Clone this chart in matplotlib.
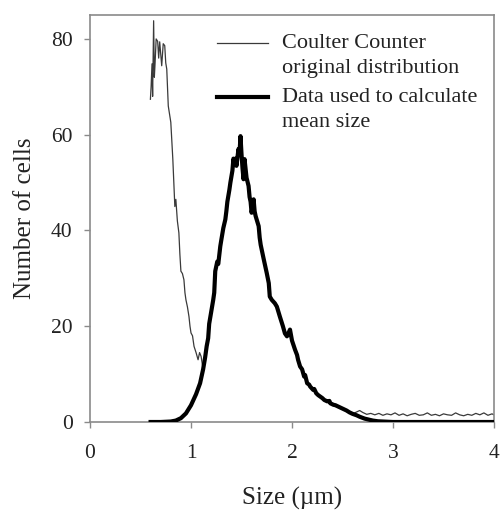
import matplotlib
matplotlib.use("Agg")
import matplotlib.pyplot as plt
import numpy as np

plt.rcParams['font.family'] = ['Liberation Serif', 'DejaVu Serif']

# Thick curve: data used to calculate mean size
thick_x = [0.60, 0.70, 0.80, 0.85, 0.90, 0.95, 1.00, 1.05, 1.09, 1.12, 1.14, 1.155,
           1.17, 1.18, 1.20, 1.22, 1.23, 1.24, 1.26, 1.27, 1.29, 1.30, 1.32, 1.34,
           1.35, 1.36, 1.38, 1.39, 1.41, 1.42, 1.43, 1.44, 1.45, 1.47, 1.48, 1.49,
           1.50, 1.51, 1.52, 1.53, 1.55, 1.57, 1.58, 1.59, 1.60, 1.62, 1.63, 1.64,
           1.67, 1.68, 1.69, 1.70, 1.72, 1.75, 1.77, 1.78, 1.80, 1.83, 1.85, 1.88,
           1.91, 1.93, 1.95, 1.97, 1.98, 2.00, 2.03, 2.05, 2.06, 2.08, 2.10, 2.12,
           2.13, 2.15, 2.17, 2.18, 2.21, 2.22, 2.24, 2.26, 2.28, 2.30, 2.32, 2.35,
           2.37, 2.38, 2.41, 2.43, 2.45, 2.48, 2.51, 2.54, 2.57, 2.60, 2.64, 2.67,
           2.72, 2.76, 2.80, 2.85, 2.90, 3.00, 3.50, 4.00]
thick_y = [0.0, 0.0, 0.1, 0.3, 0.8, 1.8, 3.5, 5.8, 8.1, 11.0, 13.5, 15.8,
           17.5, 20.5, 23.0, 25.5, 27.0, 31.5, 33.5, 33.0, 36.7, 38.0, 40.5, 42.3,
           44.0, 46.0, 48.5, 50.0, 52.5, 55.0, 54.0, 55.0, 53.5, 57.0, 56.0, 59.7,
           56.0, 53.0, 50.7, 54.9, 51.0, 49.3, 47.0, 46.0, 43.7, 46.5, 44.0, 43.0,
           40.9, 38.5, 37.0, 36.0, 34.0, 31.1, 29.0, 26.2, 25.5, 24.8, 24.1, 22.0,
           20.0, 18.5, 17.9, 18.8, 19.3, 17.0, 15.1, 14.0, 13.0, 11.6, 11.0, 9.5,
           9.8, 8.1, 7.8, 7.4, 6.7, 6.9, 6.0, 5.6, 5.3, 5.0, 4.6, 4.3,
           4.4, 3.9, 3.6, 3.5, 3.3, 3.0, 2.7, 2.4, 2.0, 1.7, 1.4, 1.1,
           0.7, 0.5, 0.3, 0.15, 0.1, 0.0, 0.0, 0.0]

# Thin curve: Coulter Counter original distribution (left part, before merging)
orig_left_x = [0.598, 0.605, 0.614, 0.62, 0.63, 0.637, 0.644, 0.655, 0.67, 0.68,
               0.69, 0.70, 0.71, 0.725, 0.74, 0.75, 0.76, 0.775, 0.79, 0.80,
               0.82, 0.84, 0.85, 0.865, 0.88, 0.89, 0.90, 0.915, 0.93, 0.94,
               0.95, 0.965, 0.98, 0.99, 1.00, 1.015, 1.03, 1.05, 1.07, 1.085, 1.10]
orig_left_y = [67.4, 70.0, 74.8, 68.0, 83.8, 72.0, 74.8, 80.0, 79.5, 76.0,
               79.4, 77.0, 74.4, 79.0, 78.6, 75.0, 73.7, 66.0, 64.0, 62.6,
               54.9, 45.0, 46.5, 42.0, 39.5, 35.0, 31.5, 31.0, 29.7, 27.0,
               25.5, 24.0, 22.0, 20.0, 18.6, 18.0, 15.8, 14.5, 13.0, 14.5, 13.7]
# Thin curve tail (after separating from the thick curve)
orig_tail_x = [2.62, 2.65, 2.67, 2.70, 2.74, 2.78, 2.82, 2.86, 2.90, 2.94, 2.98,
               3.02, 3.06, 3.10, 3.14, 3.18, 3.22, 3.26, 3.30, 3.34, 3.38, 3.42,
               3.46, 3.50, 3.54, 3.58, 3.62, 3.66, 3.70, 3.74, 3.78, 3.82, 3.86,
               3.90, 3.94, 3.98, 4.00]
orig_tail_y = [1.9, 2.2, 2.4, 2.0, 1.6, 1.8, 1.5, 1.8, 1.4, 1.7, 1.5,
               1.9, 1.4, 1.7, 1.3, 1.6, 1.8, 1.4, 1.5, 1.9, 1.4, 1.6,
               1.3, 1.7, 1.5, 1.4, 1.9, 1.5, 1.3, 1.6, 1.4, 1.8, 1.5,
               1.9, 1.4, 1.7, 1.5]

x_ticks = [0, 1, 2, 3, 4]
y_ticks = [0, 20, 40, 60, 80]
legend_labels = ["Coulter Counter\noriginal distribution",
                 "Data used to calculate\nmean size"]

tx = np.array(thick_x)
ty = np.array(thick_y)
mid = (tx > orig_left_x[-1]) & (tx < orig_tail_x[0])
orig_x = np.concatenate([orig_left_x, tx[mid], orig_tail_x])
orig_y = np.concatenate([orig_left_y, ty[mid], orig_tail_y])

fig = plt.figure(figsize=(5.02, 5.11), dpi=100)
ax = fig.add_axes([90/502, 1-422/511, 404/502, 407/511])

text_col = '#222222'
frame_col = '#8a8a8a'

ax.plot(orig_x, orig_y, color='#3a3a3a', lw=0.9, zorder=2)
ax.plot(tx, ty, color='black', lw=3.0, solid_joinstyle='round', zorder=3)

ax.set_xlim(0, 4)
ax.set_ylim(0, 85)
ax.set_xticks(x_ticks)
ax.set_yticks(y_ticks)
ax.set_xticklabels([str(v) for v in x_ticks])
ax.set_yticklabels([str(v) for v in y_ticks])

for s in ax.spines.values():
    s.set_color(frame_col)
    s.set_linewidth(1.2)

ax.tick_params(axis='both', direction='out', length=4, width=1.0,
               color=frame_col, labelcolor=text_col, labelsize=15.5)
ax.tick_params(axis='y', pad=8.5)
ax.tick_params(axis='x', pad=12)

ax.set_ylabel("Number of cells", fontsize=18, color=text_col, labelpad=11)
ax.set_xlabel("Size (\u00b5m)", fontsize=18, color=text_col, labelpad=17)

# Legend drawn manually
handle_x0, handle_x1 = (217-90)/404, (268-90)/404
text_x = (282-90)/404
entry_y = [(422-43)/407, (422-97)/407]
line_gap = 25/407
styles = [dict(color='#3a3a3a', lw=0.9), dict(color='black', lw=3.0)]
for lab, yy, st in zip(legend_labels, entry_y, styles):
    ax.plot([handle_x0, handle_x1], [yy, yy], transform=ax.transAxes,
            clip_on=False, **st)
    for i, line in enumerate(lab.split("\n")):
        ax.text(text_x, yy - i*line_gap, line, transform=ax.transAxes,
                ha='left', va='center', fontsize=16, color=text_col)

fig.savefig("out.png", dpi=100)
